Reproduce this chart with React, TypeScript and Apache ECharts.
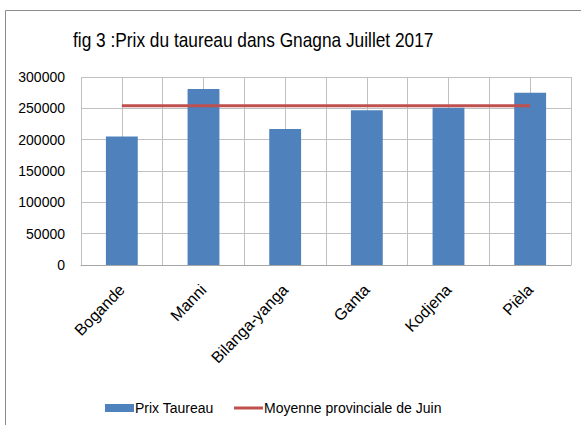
import React, { useEffect, useRef } from "react";
import * as echarts from "echarts";

const categories = ["Bogande", "Manni", "Bilanga-yanga", "Ganta", "Kodjena", "Pièla"];
const prixTaureau = [205000, 281000, 217000, 247000, 251000, 275000];
const moyenneJuin = [254000, 254000, 254000, 254000, 254000, 254000];
const yTicks = { min: 0, max: 300000, interval: 50000 };

const FONT = "'Liberation Sans', Arial, sans-serif";

export default function App() {
  const ref = useRef<HTMLDivElement>(null);
  useEffect(() => {
    document.body.style.margin = "0";
    const chart = echarts.init(ref.current!, null, { renderer: "svg" });
    chart.setOption({
      animation: false,
      backgroundColor: "#ffffff",
      textStyle: { fontFamily: FONT },
      graphic: [
        {
          type: "rect",
          shape: { x: 5.5, y: 10.5, width: 700, height: 600 },
          style: { fill: "none", stroke: "#8c8c8c", lineWidth: 1 },
          silent: true,
        },
        {
          type: "text",
          x: 73,
          y: 40,
          scaleX: 0.865,
          style: {
            text: "fig 3 :Prix du taureau dans Gnagna Juillet 2017",
            fontFamily: FONT,
            fontSize: 20,
            fill: "#000",
            textAlign: "left",
            textVerticalAlign: "middle",
          },
          silent: true,
        },
      ],
      legend: [
        {
          left: 100,
          top: 396,
          itemWidth: 29,
          itemHeight: 8,
          textStyle: { fontFamily: FONT, fontSize: 14, color: "#000", padding: [0, 0, 0, -4] },
          data: [{ name: "Prix Taureau", icon: "rect" }],
        },
        {
          left: 229,
          top: 396,
          itemWidth: 29,
          itemHeight: 3,
          textStyle: { fontFamily: FONT, fontSize: 14, color: "#000", padding: [0, 0, 0, -4] },
          data: [{ name: "Moyenne provinciale de Juin", icon: "rect" }],
        },
      ],
      grid: { left: 81, top: 77, right: 10, bottom: 160, containLabel: false },
      xAxis: [
        {
          type: "category",
          data: categories,
          axisLine: { show: true, lineStyle: { color: "#a6a6a6" } },
          axisTick: { show: false },
          splitLine: { show: false },
          axisLabel: {
            rotate: 46,
            margin: 22,
            fontFamily: FONT,
            fontSize: 16,
            color: "#000",
            interval: 0,
          },
        },
        {
          type: "value",
          min: 0,
          max: 12,
          interval: 1,
          position: "bottom",
          axisLine: { show: false },
          axisTick: { show: false },
          axisLabel: { show: false },
          splitLine: { show: true, lineStyle: { color: "#c0c0c0", width: 1 } },
        },
      ],
      yAxis: {
        type: "value",
        min: yTicks.min,
        max: yTicks.max,
        interval: yTicks.interval,
        axisLine: { show: false },
        axisTick: { show: false },
        axisLabel: {
          margin: 16,
          fontFamily: FONT,
          fontSize: 14,
          color: "#000",
          formatter: (v: number) => String(v),
        },
        splitLine: { show: true, lineStyle: { color: "#c0c0c0", width: 1 } },
      },
      series: [
        {
          name: "Prix Taureau",
          type: "bar",
          data: prixTaureau,
          barWidth: "39%",
          itemStyle: { color: "#4f81bd" },
        },
        {
          name: "Moyenne provinciale de Juin",
          type: "line",
          data: moyenneJuin,
          symbol: "none",
          lineStyle: { color: "#c0504d", width: 3 },
          itemStyle: { color: "#c0504d" },
        },
      ],
    });
    return () => chart.dispose();
  }, []);
  return <div ref={ref} style={{ width: 581, height: 425 }} />;
}
